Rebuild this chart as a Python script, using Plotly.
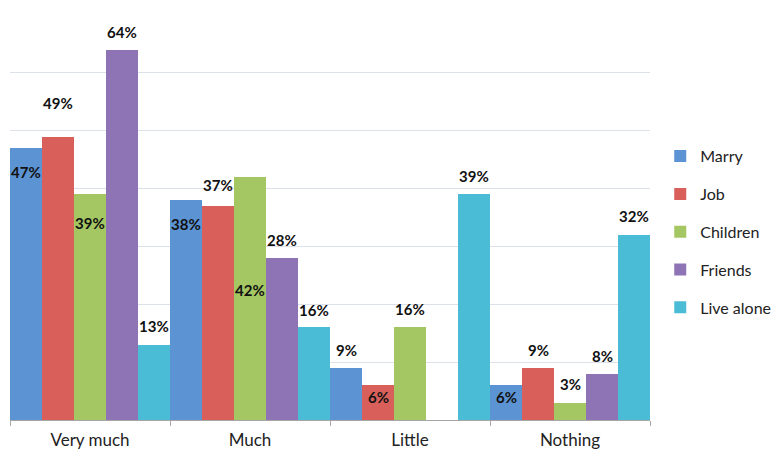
import plotly.graph_objects as go

categories = ["Very much", "Much", "Little", "Nothing"]
series_names = ["Marry", "Job", "Children", "Friends", "Live alone"]
marry = [47, 38, 9, 6]
job = [49, 37, 6, 9]
children = [39, 42, 16, 3]
friends = [64, 28, 0, 8]
live_alone = [13, 16, 39, 32]
# label text per series (Friends has no label in "Little")
label_marry = ["47%", "38%", "9%", "6%"]
label_job = ["49%", "37%", "6%", "9%"]
label_children = ["39%", "42%", "16%", "3%"]
label_friends = ["64%", "28%", "", "8%"]
label_live = ["13%", "16%", "39%", "32%"]

values = [marry, job, children, friends, live_alone]
labels = [label_marry, label_job, label_children, label_friends, label_live]
colors = ["#5B93D3", "#D9605A", "#A5C763", "#8E74B5", "#4BBCD6"]
# label vertical offset in pixels relative to bar top (positive = above)
label_shift = [
    [-24, -24, 18, -12],
    [34, 21, -12, 18],
    [-29, -113, 18, 19],
    [18, 18, 0, 18],
    [19, 17, 18, 19],
]

fig = go.Figure()
for s, name in enumerate(series_names):
    fig.add_trace(go.Bar(
        x=categories, y=values[s], name=name,
        marker=dict(color=colors[s], line=dict(width=0)),
        legendgroup=name,
    ))

n = len(series_names)
w = 1.0 / n
for s in range(n):
    for i, cat in enumerate(categories):
        if not labels[s][i]:
            continue
        fig.add_annotation(
            x=i + (s - (n - 1) / 2) * w, y=values[s][i], xref="x", yref="y",
            text="<b>" + labels[s][i] + "</b>", showarrow=False,
            yshift=label_shift[s][i],
            font=dict(family="Lato, Open Sans, sans-serif", size=15, color="#111111"),
        )

fig.update_layout(
    width=782, height=457,
    margin=dict(l=10, r=132, t=15, b=37, autoexpand=False),
    paper_bgcolor="white", plot_bgcolor="white",
    barmode="group", bargap=0, bargroupgap=0,
    showlegend=True,
    legend=dict(
        x=0.016, xanchor="left", y=0.465, yanchor="middle",
        xref="paper",
        font=dict(family="Lato, Open Sans, sans-serif", size=16, color="#222222"),
        tracegroupgap=14, traceorder="grouped",
        itemwidth=30,
    ),
    font=dict(family="Lato, Open Sans, sans-serif"),
)
fig.update_layout(legend_x=1.016)
fig.update_xaxes(
    showline=True, linecolor="#a6a6a6", linewidth=1,
    ticks="outside", tickson="boundaries", ticklen=5, tickcolor="#a6a6a6",
    tickfont=dict(size=17, color="#222222"),
    ticklabelstandoff=5,
    showgrid=False, range=[-0.5, 3.5],
)
fig.update_yaxes(
    range=[0, 70], dtick=10, showticklabels=False,
    showgrid=True, gridcolor="#dde1ec", gridwidth=1,
    zeroline=False, showline=False,
)
fig.write_html("out.html")
